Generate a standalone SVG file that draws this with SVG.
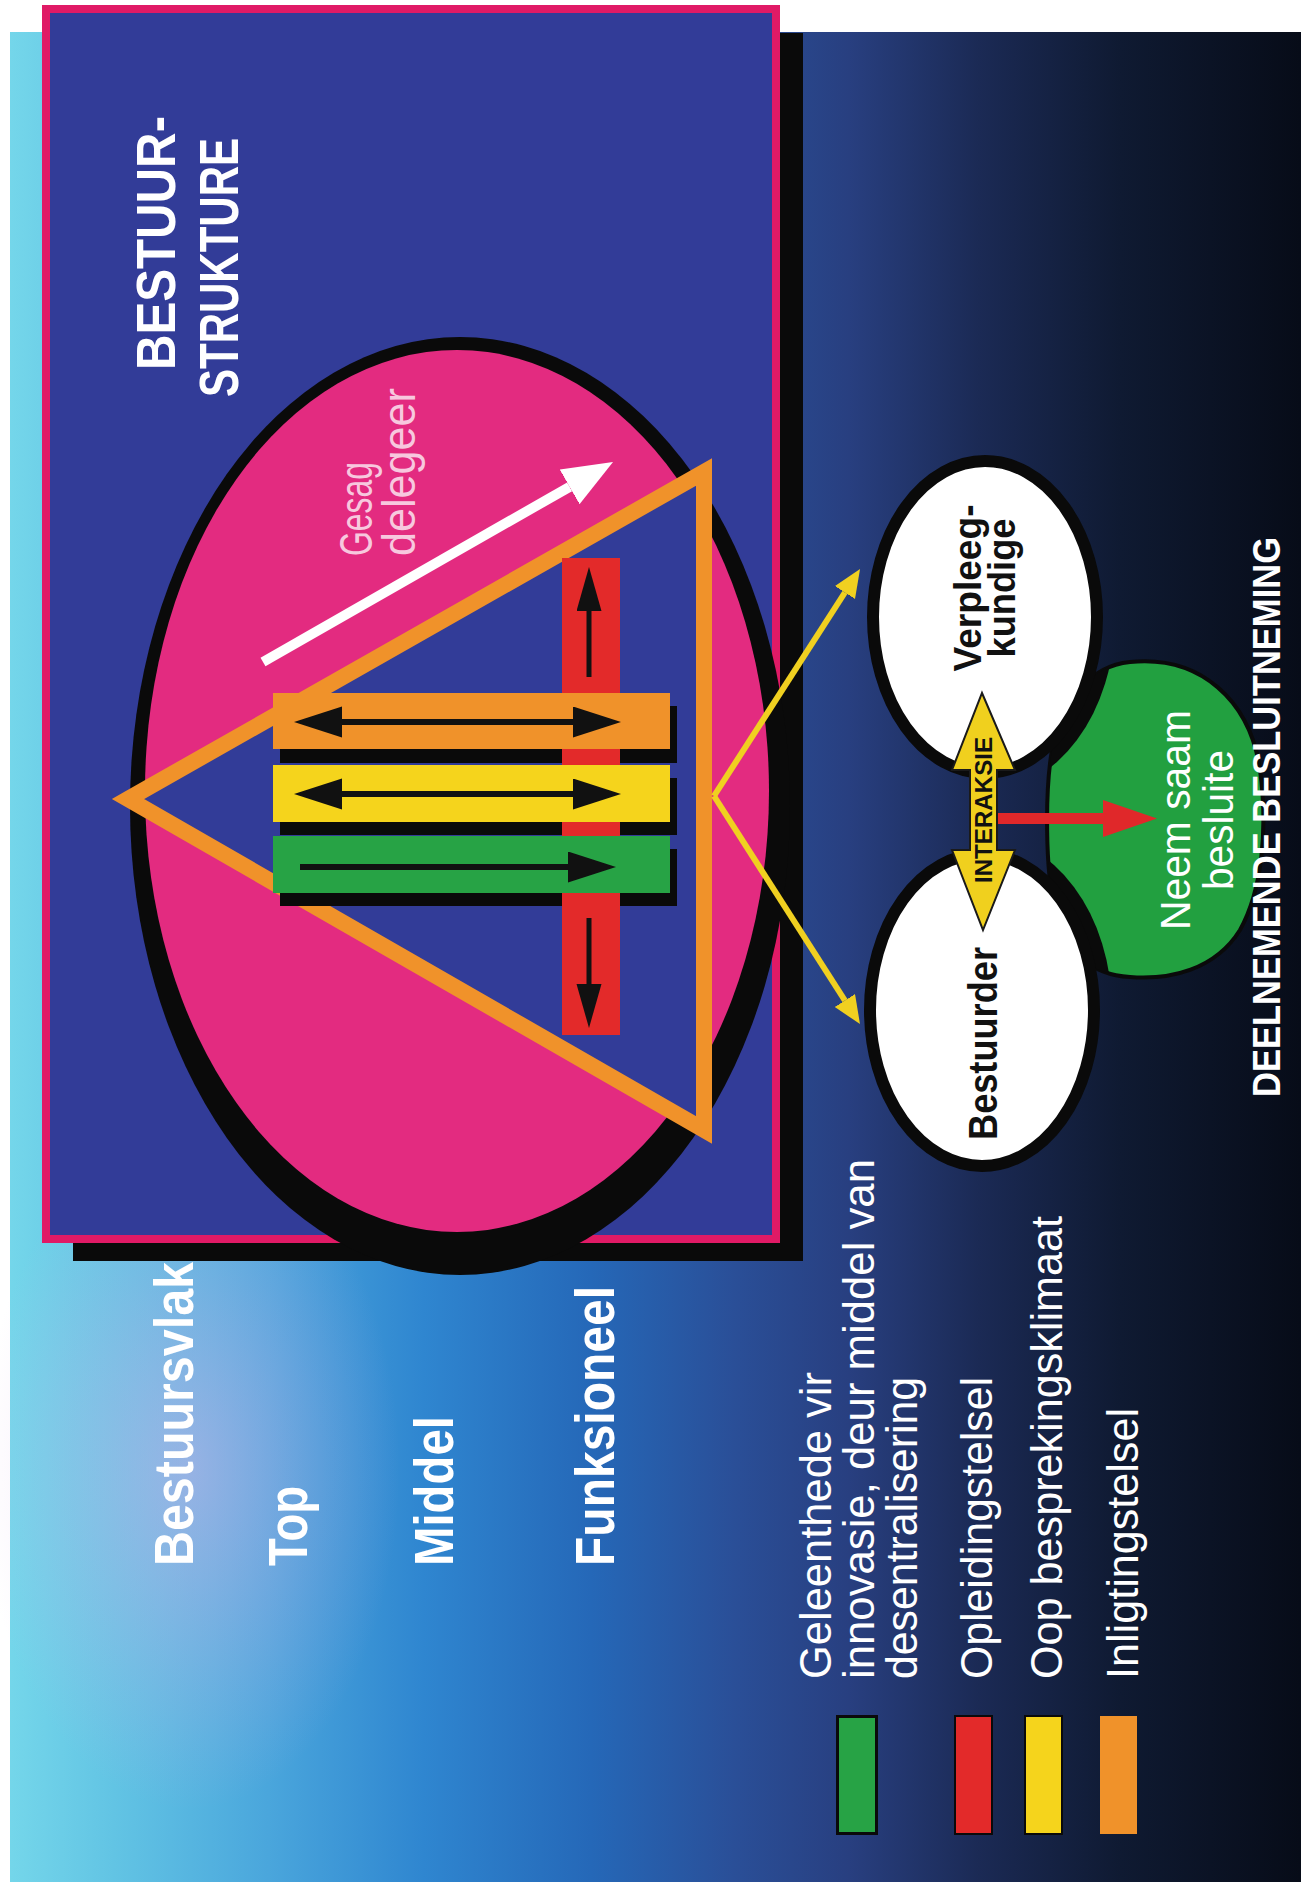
<svg xmlns="http://www.w3.org/2000/svg" width="1309" height="1891" viewBox="0 0 1309 1891">
<style>
.t{font-family:"Liberation Sans",Arial,Helvetica,sans-serif;fill:#fff}
.b{font-weight:bold}
.dk{fill:#111}
.pk{fill:#f7c8de}
.sh{fill:#0a0a0a}
</style>
<defs>
<linearGradient id="bg" x1="0" y1="0" x2="1" y2="0">
<stop offset="0" stop-color="#74d6ea"/>
<stop offset="0.08" stop-color="#62c4e4"/>
<stop offset="0.2" stop-color="#4aa6dc"/>
<stop offset="0.32" stop-color="#2f86d0"/>
<stop offset="0.45" stop-color="#2568b8"/>
<stop offset="0.56" stop-color="#2a4f98"/>
<stop offset="0.65" stop-color="#283f80"/>
<stop offset="0.75" stop-color="#1b2a55"/>
<stop offset="0.86" stop-color="#0f1a32"/>
<stop offset="1" stop-color="#070c18"/>
</linearGradient>
<radialGradient id="lav">
<stop offset="0" stop-color="#d8b0e8" stop-opacity="0.5"/>
<stop offset="1" stop-color="#d8b0e8" stop-opacity="0"/>
</radialGradient>
<marker id="ahB" markerUnits="userSpaceOnUse" markerWidth="50" markerHeight="32" refX="0" refY="15.5" orient="auto-start-reverse"><path d="M0,0 L48,15.5 L0,31 Z" fill="#111"/></marker>
<marker id="ahS" markerUnits="userSpaceOnUse" markerWidth="46" markerHeight="26" refX="0" refY="12.5" orient="auto-start-reverse"><path d="M0,0 L44,12.5 L0,25 Z" fill="#111"/></marker>
<marker id="ahW" markerUnits="userSpaceOnUse" markerWidth="52" markerHeight="42" refX="0" refY="20" orient="auto"><path d="M0,0 L50,20 L0,40 Z" fill="#fff"/></marker>
<marker id="ahY" markerUnits="userSpaceOnUse" markerWidth="30" markerHeight="26" refX="0" refY="12" orient="auto"><path d="M0,0 L28,12 L0,24 Z" fill="#f0d020"/></marker>
<clipPath id="gclip"><path d="M1130,662 C1200,655 1250,700 1260,770 C1268,830 1262,890 1240,930 C1215,970 1170,980 1130,977 C1090,975 1065,950 1055,910 C1045,870 1045,790 1052,750 C1062,700 1090,666 1130,662 Z"/></clipPath>
</defs>

<rect x="0" y="0" width="1309" height="1891" fill="#fff"/>
<g id="background">
<rect x="10" y="32" width="1291" height="1850" fill="url(#bg)"/>
<ellipse cx="190" cy="1470" rx="210" ry="340" fill="url(#lav)"/>
</g>

<g id="bestuurstrukture">
<rect x="73" y="33" width="730" height="1228" class="sh"/>
<rect x="46" y="9" width="730" height="1230" fill="#323c98" stroke="#e01a66" stroke-width="8"/>
<ellipse cx="460" cy="806" rx="330" ry="469" class="sh"/>
<ellipse cx="457" cy="791" rx="312" ry="441" fill="#e32b80"/>
<text class="t b" font-size="56" transform="translate(175,370) rotate(-90)" textLength="254" lengthAdjust="spacingAndGlyphs">BESTUUR-</text>
<text class="t b" font-size="56" transform="translate(238,397) rotate(-90)" textLength="259" lengthAdjust="spacingAndGlyphs">STRUKTURE</text>
</g>

<g id="gesag">
<line x1="263" y1="662" x2="569.6" y2="486.8" stroke="#fff" stroke-width="10" marker-end="url(#ahW)"/>
<text class="t pk" font-size="46" transform="translate(372,556) rotate(-90)" textLength="94" lengthAdjust="spacingAndGlyphs">Gesag</text>
<text class="t pk" font-size="46" transform="translate(415,556) rotate(-90)" textLength="168" lengthAdjust="spacingAndGlyphs">delegeer</text>
</g>

<g id="triangle">
<polygon points="128,799 704,472 704,1130" fill="#323c98" stroke="#f0922a" stroke-width="16" stroke-linejoin="miter" stroke-miterlimit="10"/>
</g>

<g id="bars">
<rect x="280" y="706" width="397" height="57" class="sh"/>
<rect x="280" y="778" width="397" height="57" class="sh"/>
<rect x="280" y="849" width="397" height="57" class="sh"/>
<rect x="562" y="558" width="58" height="477" fill="#e32a2a"/>
<rect x="273" y="693" width="397" height="56" fill="#f0922a"/>
<rect x="273" y="765" width="397" height="57" fill="#f5d41c"/>
<rect x="273" y="836" width="397" height="57" fill="#27a345"/>
<line x1="342" y1="722" x2="573" y2="722" stroke="#111" stroke-width="6" marker-start="url(#ahB)" marker-end="url(#ahB)"/>
<line x1="342" y1="794" x2="573" y2="794" stroke="#111" stroke-width="6" marker-start="url(#ahB)" marker-end="url(#ahB)"/>
<line x1="300" y1="867" x2="568" y2="867" stroke="#111" stroke-width="6" marker-end="url(#ahB)"/>
<line x1="589" y1="677" x2="589" y2="611" stroke="#111" stroke-width="5" marker-end="url(#ahS)"/>
<line x1="589" y1="918" x2="589" y2="984" stroke="#111" stroke-width="5" marker-end="url(#ahS)"/>
</g>

<g id="labels">
<text class="t b" font-size="55" transform="translate(193,1566) rotate(-90)" textLength="304" lengthAdjust="spacingAndGlyphs">Bestuursvlak</text>
<text class="t b" font-size="55" transform="translate(307,1566) rotate(-90)" textLength="80" lengthAdjust="spacingAndGlyphs">Top</text>
<text class="t b" font-size="55" transform="translate(453,1566) rotate(-90)" textLength="150" lengthAdjust="spacingAndGlyphs">Middel</text>
<text class="t b" font-size="55" transform="translate(614,1566) rotate(-90)" textLength="280" lengthAdjust="spacingAndGlyphs">Funksioneel</text>
</g>

<g id="connectors">
<line x1="714" y1="796" x2="844.9" y2="592.5" stroke="#f0d020" stroke-width="6" marker-end="url(#ahY)"/>
<line x1="714" y1="796" x2="844.9" y2="1000.5" stroke="#f0d020" stroke-width="6" marker-end="url(#ahY)"/>
</g>

<g id="neem-saam">
<path d="M1130,662 C1200,655 1250,700 1260,770 C1268,830 1262,890 1240,930 C1215,970 1170,980 1130,977 C1090,975 1065,950 1055,910 C1045,870 1045,790 1052,750 C1062,700 1090,666 1130,662 Z" fill="#22a040" stroke="#0a0a0a" stroke-width="4"/>
<g clip-path="url(#gclip)">
<ellipse cx="985" cy="617" rx="130" ry="174" class="sh"/>
<ellipse cx="982" cy="1010" rx="130" ry="174" class="sh"/>
</g>
</g>

<g id="verpleegkundige">
<ellipse cx="985" cy="617" rx="112" ry="156" fill="#fff" stroke="#0a0a0a" stroke-width="12"/>
<text class="t b dk" font-size="38" text-anchor="middle" transform="translate(981,588) rotate(-90)" textLength="167" lengthAdjust="spacingAndGlyphs">Verpleeg-</text>
<text class="t b dk" font-size="38" text-anchor="middle" transform="translate(1015,588) rotate(-90)" textLength="139" lengthAdjust="spacingAndGlyphs">kundige</text>
</g>

<g id="bestuurder">
<ellipse cx="982" cy="1010" rx="112" ry="156" fill="#fff" stroke="#0a0a0a" stroke-width="12"/>
<text class="t b dk" font-size="40" transform="translate(997,1140) rotate(-90)" textLength="193" lengthAdjust="spacingAndGlyphs">Bestuurder</text>
</g>

<g id="interaksie">
<polygon points="982,693 1015,770 997,770 997,850 1015,850 983,930 952,850 970,850 970,770 952,770" fill="#f0d01e" stroke="#1a1a1a" stroke-width="2"/>
<text class="t b dk" font-size="24" transform="translate(992,883) rotate(-90)" textLength="146" lengthAdjust="spacingAndGlyphs">INTERAKSIE</text>
<path d="M998,813 L1103,813 L1103,800 L1157,818.5 L1103,837 L1103,824 L998,824 Z" fill="#e0282a"/>
</g>

<g id="neem-saam-text">
<text class="t" font-size="42" text-anchor="middle" transform="translate(1190,820) rotate(-90)" textLength="220" lengthAdjust="spacingAndGlyphs">Neem saam</text>
<text class="t" font-size="42" text-anchor="middle" transform="translate(1233,820) rotate(-90)" textLength="140" lengthAdjust="spacingAndGlyphs">besluite</text>
<text class="t b" font-size="38" transform="translate(1280,1097) rotate(-90)" textLength="560" lengthAdjust="spacingAndGlyphs">DEELNEMENDE BESLUITNEMING</text>
</g>

<g id="legend">
<rect x="837.5" y="1716.5" width="39" height="117" fill="#27a345" stroke="#0a0a0a" stroke-width="3"/>
<rect x="955" y="1716" width="37" height="118" fill="#e32a2a" stroke="#0a0a0a" stroke-width="2"/>
<rect x="1025" y="1716" width="37" height="118" fill="#f5d41c" stroke="#0a0a0a" stroke-width="2"/>
<rect x="1100" y="1716" width="37" height="118" fill="#f0922a"/>
<text class="t" font-size="44" transform="translate(831,1679) rotate(-90)" textLength="307" lengthAdjust="spacingAndGlyphs">Geleenthede vir</text>
<text class="t" font-size="44" transform="translate(874,1679) rotate(-90)" textLength="520" lengthAdjust="spacingAndGlyphs">innovasie, deur middel van</text>
<text class="t" font-size="44" transform="translate(917,1679) rotate(-90)" textLength="302" lengthAdjust="spacingAndGlyphs">desentralisering</text>
<text class="t" font-size="44" transform="translate(992,1679) rotate(-90)" textLength="302" lengthAdjust="spacingAndGlyphs">Opleidingstelsel</text>
<text class="t" font-size="44" transform="translate(1062,1679) rotate(-90)" textLength="463" lengthAdjust="spacingAndGlyphs">Oop besprekingsklimaat</text>
<text class="t" font-size="44" transform="translate(1138,1679) rotate(-90)" textLength="271" lengthAdjust="spacingAndGlyphs">Inligtingstelsel</text>
</g>
</svg>
